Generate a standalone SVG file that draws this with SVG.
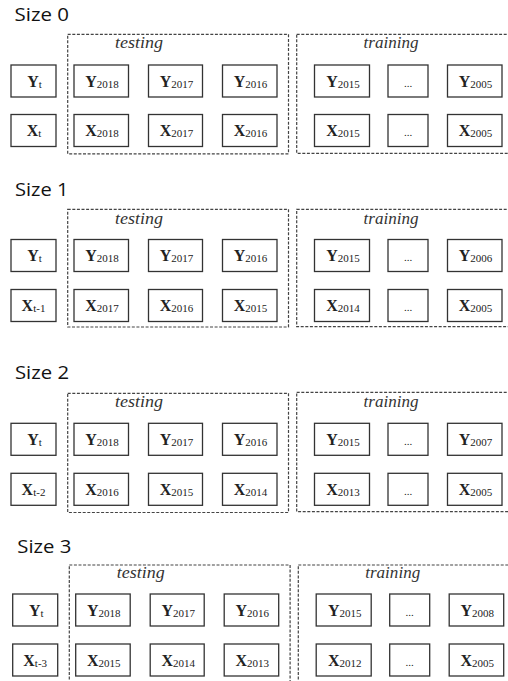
<svg xmlns="http://www.w3.org/2000/svg" width="508" height="681" viewBox="0 0 508 681">
<style>
.bg{fill:#fff}
.box{fill:#fff;stroke:#333;stroke-width:1.3}
.dash{fill:none;stroke:#444;stroke-width:1.2;stroke-dasharray:3 1.6}
.v{font-family:"Liberation Serif","Times New Roman",serif;font-size:16px;font-weight:bold;fill:#222;text-anchor:middle}
.sub{font-size:11px;font-weight:normal}
.dots{font-family:"Liberation Serif","Times New Roman",serif;font-size:11px;fill:#222;text-anchor:middle}
.lab{font-family:"Liberation Serif","Times New Roman",serif;font-size:17px;font-style:italic;fill:#333;text-anchor:middle}
.size{font-family:"Open Sans","Noto Sans",sans-serif;font-size:18px;fill:#111}
</style>
<rect class="bg" x="0" y="0" width="508" height="681"/>

<!-- Panel 0 -->
<g id="panel0">
  <text class="size" x="14.5" y="20.7" textLength="54.5" lengthAdjust="spacingAndGlyphs">Size 0</text>
  <g id="p0-frames">
    <rect class="dash" x="67.7" y="34.3" width="220.8" height="119.5"/>
    <rect class="dash" x="296.7" y="34.3" width="230" height="119"/>
    <text class="lab" x="139" y="48" textLength="48" lengthAdjust="spacingAndGlyphs">testing</text>
    <text class="lab" x="391" y="48" textLength="55" lengthAdjust="spacingAndGlyphs">training</text>
  </g>
  <g id="p0-yt"><rect class="box" x="11" y="65" width="45" height="32"/><text class="v" x="34.5" y="86.7">Y<tspan class="sub" dy="1">t</tspan></text></g>
  <g id="p0-y2018"><rect class="box" x="74" y="65" width="54.5" height="32"/><text class="v" x="102" y="86.7">Y<tspan class="sub" dy="1">2018</tspan></text></g>
  <g id="p0-y2017"><rect class="box" x="148.5" y="65" width="54" height="32"/><text class="v" x="176.5" y="86.7">Y<tspan class="sub" dy="1">2017</tspan></text></g>
  <g id="p0-y2016"><rect class="box" x="222.5" y="65" width="54.5" height="32"/><text class="v" x="250.5" y="86.7">Y<tspan class="sub" dy="1">2016</tspan></text></g>
  <g id="p0-y2015"><rect class="box" x="314.5" y="65" width="55" height="32"/><text class="v" x="343" y="86.7">Y<tspan class="sub" dy="1">2015</tspan></text></g>
  <g id="p0-ydots"><rect class="box" x="388" y="65" width="40" height="32"/><text class="dots" x="408" y="86.5">...</text></g>
  <g id="p0-y2005"><rect class="box" x="447.5" y="65" width="54.5" height="32"/><text class="v" x="475.5" y="86.7">Y<tspan class="sub" dy="1">2005</tspan></text></g>
  <g id="p0-xt"><rect class="box" x="11" y="114.5" width="45" height="32"/><text class="v" x="34" y="136.2">X<tspan class="sub" dy="1">t</tspan></text></g>
  <g id="p0-x2018"><rect class="box" x="74" y="114.5" width="54.5" height="32"/><text class="v" x="102" y="136.2">X<tspan class="sub" dy="1">2018</tspan></text></g>
  <g id="p0-x2017"><rect class="box" x="148.5" y="114.5" width="54" height="32"/><text class="v" x="176.5" y="136.2">X<tspan class="sub" dy="1">2017</tspan></text></g>
  <g id="p0-x2016"><rect class="box" x="222.5" y="114.5" width="54.5" height="32"/><text class="v" x="250.5" y="136.2">X<tspan class="sub" dy="1">2016</tspan></text></g>
  <g id="p0-x2015"><rect class="box" x="314.5" y="114.5" width="55" height="32"/><text class="v" x="343" y="136.2">X<tspan class="sub" dy="1">2015</tspan></text></g>
  <g id="p0-xdots"><rect class="box" x="388" y="114.5" width="40" height="32"/><text class="dots" x="408" y="136">...</text></g>
  <g id="p0-x2005"><rect class="box" x="447.5" y="114.5" width="54.5" height="32"/><text class="v" x="475.5" y="136.2">X<tspan class="sub" dy="1">2005</tspan></text></g>
</g>

<!-- Panel 1 -->
<g id="panel1" transform="translate(0 175)">
  <text class="size" x="15" y="21.3" textLength="53.5" lengthAdjust="spacingAndGlyphs">Size 1</text>
  <g id="p1-frames">
    <rect class="dash" x="67.7" y="34.3" width="220.8" height="117.7"/>
    <rect class="dash" x="296.7" y="34.3" width="230" height="117.4"/>
    <text class="lab" x="139" y="49" textLength="48" lengthAdjust="spacingAndGlyphs">testing</text>
    <text class="lab" x="391" y="49" textLength="55" lengthAdjust="spacingAndGlyphs">training</text>
  </g>
  <g id="p1-yt"><rect class="box" x="11" y="64.5" width="45" height="32"/><text class="v" x="34.5" y="86.2">Y<tspan class="sub" dy="1">t</tspan></text></g>
  <g id="p1-y2018"><rect class="box" x="74" y="64.5" width="54.5" height="32"/><text class="v" x="102" y="86.2">Y<tspan class="sub" dy="1">2018</tspan></text></g>
  <g id="p1-y2017"><rect class="box" x="148.5" y="64.5" width="54" height="32"/><text class="v" x="176.5" y="86.2">Y<tspan class="sub" dy="1">2017</tspan></text></g>
  <g id="p1-y2016"><rect class="box" x="222.5" y="64.5" width="54.5" height="32"/><text class="v" x="250.5" y="86.2">Y<tspan class="sub" dy="1">2016</tspan></text></g>
  <g id="p1-y2015"><rect class="box" x="314.5" y="64.5" width="55" height="32"/><text class="v" x="343" y="86.2">Y<tspan class="sub" dy="1">2015</tspan></text></g>
  <g id="p1-ydots"><rect class="box" x="388" y="64.5" width="40" height="32"/><text class="dots" x="408" y="86">...</text></g>
  <g id="p1-y2006"><rect class="box" x="447.5" y="64.5" width="54.5" height="32"/><text class="v" x="475.5" y="86.2">Y<tspan class="sub" dy="1">2006</tspan></text></g>
  <g id="p1-xt1"><rect class="box" x="11" y="114.5" width="45" height="32"/><text class="v" x="33.5" y="136.2">X<tspan class="sub" dy="1">t-1</tspan></text></g>
  <g id="p1-x2017"><rect class="box" x="74" y="114.5" width="54.5" height="32"/><text class="v" x="102" y="136.2">X<tspan class="sub" dy="1">2017</tspan></text></g>
  <g id="p1-x2016"><rect class="box" x="148.5" y="114.5" width="54" height="32"/><text class="v" x="176.5" y="136.2">X<tspan class="sub" dy="1">2016</tspan></text></g>
  <g id="p1-x2015"><rect class="box" x="222.5" y="114.5" width="54.5" height="32"/><text class="v" x="250.5" y="136.2">X<tspan class="sub" dy="1">2015</tspan></text></g>
  <g id="p1-x2014"><rect class="box" x="314.5" y="114.5" width="55" height="32"/><text class="v" x="343" y="136.2">X<tspan class="sub" dy="1">2014</tspan></text></g>
  <g id="p1-xdots"><rect class="box" x="388" y="114.5" width="40" height="32"/><text class="dots" x="408" y="136">...</text></g>
  <g id="p1-x2005"><rect class="box" x="447.5" y="114.5" width="54.5" height="32"/><text class="v" x="475.5" y="136.2">X<tspan class="sub" dy="1">2005</tspan></text></g>
</g>

<!-- Panel 2 -->
<g id="panel2" transform="translate(0 358.7)">
  <text class="size" x="15" y="20.7" textLength="54" lengthAdjust="spacingAndGlyphs">Size 2</text>
  <g id="p2-frames">
    <rect class="dash" x="67.7" y="34.6" width="220.8" height="119.2"/>
    <rect class="dash" x="296.7" y="33.6" width="230" height="119.4"/>
    <text class="lab" x="139" y="48" textLength="48" lengthAdjust="spacingAndGlyphs">testing</text>
    <text class="lab" x="391" y="48" textLength="55" lengthAdjust="spacingAndGlyphs">training</text>
  </g>
  <g id="p2-yt"><rect class="box" x="11" y="64.6" width="45" height="32"/><text class="v" x="34.5" y="86.3">Y<tspan class="sub" dy="1">t</tspan></text></g>
  <g id="p2-y2018"><rect class="box" x="74" y="64.6" width="54.5" height="32"/><text class="v" x="102" y="86.3">Y<tspan class="sub" dy="1">2018</tspan></text></g>
  <g id="p2-y2017"><rect class="box" x="148.5" y="64.6" width="54" height="32"/><text class="v" x="176.5" y="86.3">Y<tspan class="sub" dy="1">2017</tspan></text></g>
  <g id="p2-y2016"><rect class="box" x="222.5" y="64.6" width="54.5" height="32"/><text class="v" x="250.5" y="86.3">Y<tspan class="sub" dy="1">2016</tspan></text></g>
  <g id="p2-y2015"><rect class="box" x="314.5" y="64.6" width="55" height="32"/><text class="v" x="343" y="86.3">Y<tspan class="sub" dy="1">2015</tspan></text></g>
  <g id="p2-ydots"><rect class="box" x="388" y="64.6" width="40" height="32"/><text class="dots" x="408" y="86">...</text></g>
  <g id="p2-y2007"><rect class="box" x="447.5" y="64.6" width="54.5" height="32"/><text class="v" x="475.5" y="86.3">Y<tspan class="sub" dy="1">2007</tspan></text></g>
  <g id="p2-xt2"><rect class="box" x="11" y="114.6" width="45" height="32"/><text class="v" x="33.5" y="136.3">X<tspan class="sub" dy="1">t-2</tspan></text></g>
  <g id="p2-x2016"><rect class="box" x="74" y="114.6" width="54.5" height="32"/><text class="v" x="102" y="136.3">X<tspan class="sub" dy="1">2016</tspan></text></g>
  <g id="p2-x2015"><rect class="box" x="148.5" y="114.6" width="54" height="32"/><text class="v" x="176.5" y="136.3">X<tspan class="sub" dy="1">2015</tspan></text></g>
  <g id="p2-x2014"><rect class="box" x="222.5" y="114.6" width="54.5" height="32"/><text class="v" x="250.5" y="136.3">X<tspan class="sub" dy="1">2014</tspan></text></g>
  <g id="p2-x2013"><rect class="box" x="314.5" y="114.6" width="55" height="32"/><text class="v" x="343" y="136.3">X<tspan class="sub" dy="1">2013</tspan></text></g>
  <g id="p2-xdots"><rect class="box" x="388" y="114.6" width="40" height="32"/><text class="dots" x="408" y="136">...</text></g>
  <g id="p2-x2005"><rect class="box" x="447.5" y="114.6" width="54.5" height="32"/><text class="v" x="475.5" y="136.3">X<tspan class="sub" dy="1">2005</tspan></text></g>
</g>

<!-- Panel 3 -->
<g id="panel3" transform="translate(1.7 529.5)">
  <text class="size" x="15.6" y="23.8" textLength="54" lengthAdjust="spacingAndGlyphs">Size 3</text>
  <g id="p3-frames">
    <rect class="dash" x="67.6" y="35.5" width="220.8" height="170"/>
    <rect class="dash" x="296.6" y="35.5" width="230" height="170"/>
    <text class="lab" x="139" y="48" textLength="48" lengthAdjust="spacingAndGlyphs">testing</text>
    <text class="lab" x="391" y="48" textLength="55" lengthAdjust="spacingAndGlyphs">training</text>
  </g>
  <g id="p3-yt"><rect class="box" x="11" y="64.5" width="45" height="32"/><text class="v" x="34.5" y="86.2">Y<tspan class="sub" dy="1">t</tspan></text></g>
  <g id="p3-y2018"><rect class="box" x="74" y="64.5" width="54.5" height="32"/><text class="v" x="102" y="86.2">Y<tspan class="sub" dy="1">2018</tspan></text></g>
  <g id="p3-y2017"><rect class="box" x="148.5" y="64.5" width="54" height="32"/><text class="v" x="176.5" y="86.2">Y<tspan class="sub" dy="1">2017</tspan></text></g>
  <g id="p3-y2016"><rect class="box" x="222.5" y="64.5" width="54.5" height="32"/><text class="v" x="250.5" y="86.2">Y<tspan class="sub" dy="1">2016</tspan></text></g>
  <g id="p3-y2015"><rect class="box" x="314.5" y="64.5" width="55" height="32"/><text class="v" x="343" y="86.2">Y<tspan class="sub" dy="1">2015</tspan></text></g>
  <g id="p3-ydots"><rect class="box" x="388" y="64.5" width="40" height="32"/><text class="dots" x="408" y="86">...</text></g>
  <g id="p3-y2008"><rect class="box" x="447.5" y="64.5" width="54.5" height="32"/><text class="v" x="475.5" y="86.2">Y<tspan class="sub" dy="1">2008</tspan></text></g>
  <g id="p3-xt3"><rect class="box" x="11" y="114.5" width="45" height="32"/><text class="v" x="33.5" y="136.2">X<tspan class="sub" dy="1">t-3</tspan></text></g>
  <g id="p3-x2015"><rect class="box" x="74" y="114.5" width="54.5" height="32"/><text class="v" x="102" y="136.2">X<tspan class="sub" dy="1">2015</tspan></text></g>
  <g id="p3-x2014"><rect class="box" x="148.5" y="114.5" width="54" height="32"/><text class="v" x="176.5" y="136.2">X<tspan class="sub" dy="1">2014</tspan></text></g>
  <g id="p3-x2013"><rect class="box" x="222.5" y="114.5" width="54.5" height="32"/><text class="v" x="250.5" y="136.2">X<tspan class="sub" dy="1">2013</tspan></text></g>
  <g id="p3-x2012"><rect class="box" x="314.5" y="114.5" width="55" height="32"/><text class="v" x="343" y="136.2">X<tspan class="sub" dy="1">2012</tspan></text></g>
  <g id="p3-xdots"><rect class="box" x="388" y="114.5" width="40" height="32"/><text class="dots" x="408" y="136">...</text></g>
  <g id="p3-x2005"><rect class="box" x="447.5" y="114.5" width="54.5" height="32"/><text class="v" x="475.5" y="136.2">X<tspan class="sub" dy="1">2005</tspan></text></g>
</g>

<g id="connectors"></g>
</svg>
